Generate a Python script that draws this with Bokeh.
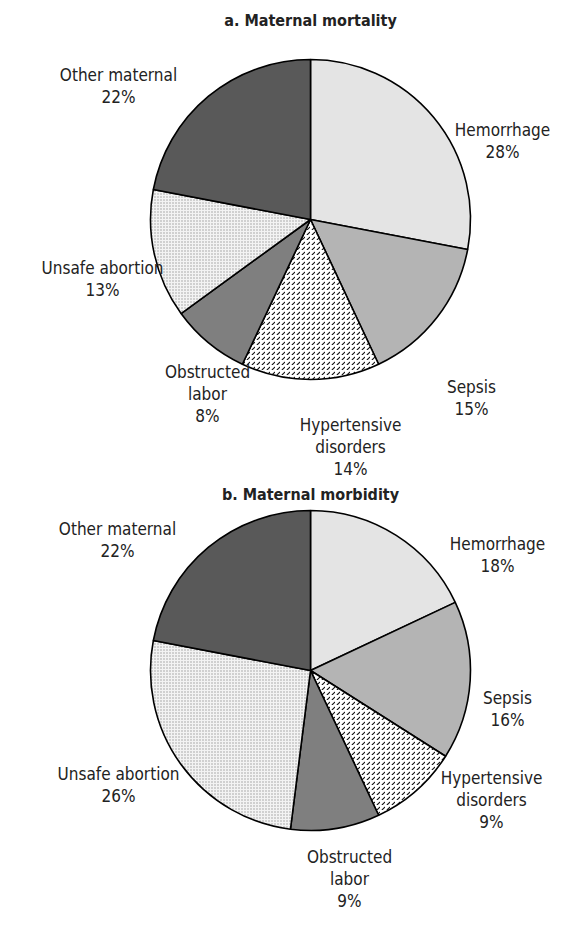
import numpy as np
from bokeh.plotting import figure
from bokeh.models import Range1d, ColumnDataSource
from bokeh.core.properties import value
from bokeh.embed import file_html
from bokeh.resources import INLINE

categories = ["Hemorrhage", "Sepsis", "Hypertensive disorders", "Obstructed labor", "Unsafe abortion", "Other maternal"]
label_text = ["Hemorrhage", "Sepsis", "Hypertensive\ndisorders", "Obstructed\nlabor", "Unsafe abortion", "Other maternal"]
mortality = [28, 15, 14, 8, 13, 22]
morbidity = [18, 16, 9, 9, 26, 22]
titles = ["a. Maternal mortality", "b. Maternal morbidity"]

fills = ["#e4e4e4", "#b4b4b4", "#ffffff", "#7f7f7f", "#f3f3f3", "#595959"]
hatches = [" ", " ", "right_diagonal_dash", " ", "dot", " "]
hatch_scales = [6, 6, 5, 6, 3, 6]
hatch_colors = ["black", "black", "#111111", "black", "#9a9a9a", "black"]

W, H = 557, 915
FONT = "'DejaVu Sans Condensed', 'Liberation Sans Narrow', 'Roboto', sans-serif"

p = figure(width=W, height=H, output_backend="svg", toolbar_location=None,
           x_range=Range1d(0, W), y_range=Range1d(-H, 0),
           min_border=0)
p.axis.visible = False
p.grid.visible = False
p.outline_line_color = None
p.background_fill_color = "white"

R = 160
centers = [(310, 219), (310, 670)]
title_y = [20, 494]
label_pos = [
    [(502, 140), (471, 397), (350, 446), (207, 393), (102, 278), (118, 85)],
    [(497, 554), (507, 708), (491, 799), (349, 878), (118, 784), (117, 539)],
]
datasets = [mortality, morbidity]

for k, vals in enumerate(datasets):
    v = np.array(vals, dtype=float)
    frac = v / v.sum()
    cum = np.concatenate([[0], np.cumsum(frac)])
    start = np.pi / 2 - 2 * np.pi * cum[:-1]
    end = np.pi / 2 - 2 * np.pi * cum[1:]
    cx, cy = centers[k]
    for i in range(len(vals)):
        p.wedge(x=cx, y=-cy, radius=R, start_angle=start[i], end_angle=end[i],
                direction="clock", fill_color=fills[i], line_color="black",
                line_width=1.6, hatch_pattern=hatches[i], hatch_scale=hatch_scales[i],
                hatch_color=hatch_colors[i], hatch_weight=1.1)
    texts = [f"{label_text[i]}\n{vals[i]}%" for i in range(len(vals))]
    src = ColumnDataSource(dict(x=[q[0] for q in label_pos[k]],
                                y=[-q[1] for q in label_pos[k]], t=texts))
    p.text(x="x", y="y", text="t", source=src, text_align="center",
           text_baseline="middle", text_font=value(FONT), text_font_size="17px",
           text_color="#222222", text_line_height=1.1)
    p.text(x=[310], y=[-title_y[k]], text=[titles[k]], text_align="center",
           text_baseline="middle", text_font=value(FONT), text_font_size="16px",
           text_font_style="bold", text_color="#222222")

open("out.html", "w").write(file_html(p, INLINE))
